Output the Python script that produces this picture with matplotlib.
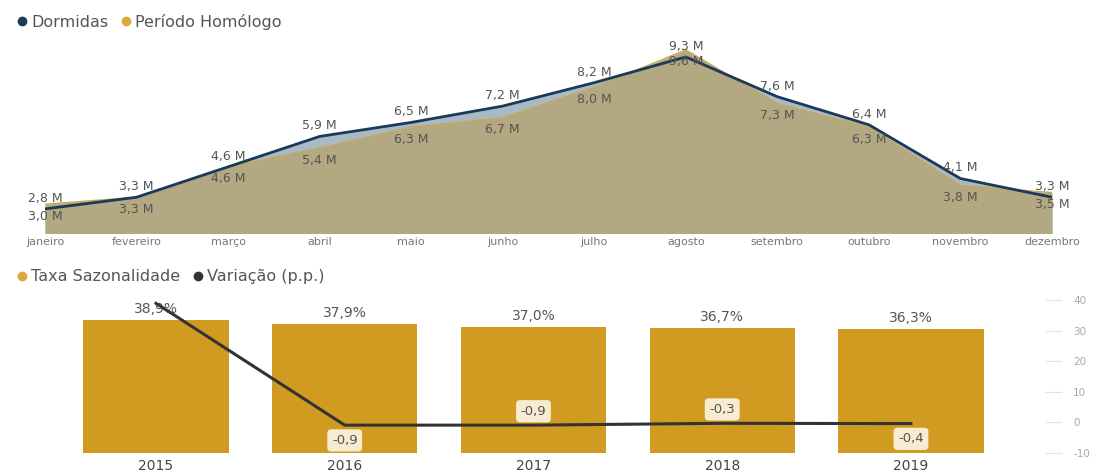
import matplotlib
matplotlib.use("Agg")
import matplotlib.pyplot as plt
from matplotlib.lines import Line2D

# Dados - dormidas mensais (milhões)
meses = ["janeiro", "fevereiro", "março", "abril", "maio", "junho", "julho",
         "agosto", "setembro", "outubro", "novembro", "dezembro"]
dormidas = [2.8, 3.3, 4.6, 5.9, 6.5, 7.2, 8.2, 9.3, 7.6, 6.4, 4.1, 3.3]
homologo = [3.0, 3.3, 4.6, 5.4, 6.3, 6.7, 8.0, 9.6, 7.3, 6.3, 3.8, 3.5]

# Dados - taxa de sazonalidade por ano
anos = ["2015", "2016", "2017", "2018", "2019"]
taxa = [38.9, 37.9, 37.0, 36.7, 36.3]
variacao = [38.9, -0.9, -0.9, -0.3, -0.4]

plt.rcParams["font.family"] = ["DejaVu Sans"]
plt.rcParams["axes.unicode_minus"] = False

navy = "#1c3a58"
gold = "#d19b22"
tan = "#b2a882"
txt = "#555555"

fig = plt.figure(figsize=(10.94, 4.74), dpi=100)

# ---- gráfico de cima: área ----
ax1 = fig.add_axes([0.0411, 0.5084, 0.9205, 0.3966])
x = list(range(len(meses)))
ax1.fill_between(x, 0, dormidas, color="#a9bac7", lw=0)
ax1.fill_between(x, 0, homologo, color=tan, lw=0)
ax1.plot(x, homologo, color="#c8a656", lw=1)
ax1.plot(x, dormidas, color=navy, lw=2)
ax1.set_xlim(0, 11)
ax1.set_ylim(1.77, 9.81)
for i in x:
    ax1.annotate(f"{dormidas[i]:.1f} M".replace(".", ","), (i, dormidas[i]),
                 xytext=(0, 3), textcoords="offset points", ha="center", va="bottom",
                 fontsize=9, color=txt, annotation_clip=False)
    ax1.annotate(f"{homologo[i]:.1f} M".replace(".", ","), (i, homologo[i]),
                 xytext=(0, -4), textcoords="offset points", ha="center", va="top",
                 fontsize=9, color=txt, annotation_clip=False)
ax1.set_xticks(x)
ax1.set_xticklabels(meses, fontsize=8, color="#777777")
ax1.tick_params(axis="x", length=0, pad=3)
ax1.set_yticks([])
for s in ax1.spines.values():
    s.set_visible(False)

leg1 = [Line2D([], [], marker="o", ls="", color=navy, markersize=6),
        Line2D([], [], marker="o", ls="", color="#d9a840", markersize=6)]
fig.legend(leg1, ["Dormidas", "Período Homólogo"], loc="center left",
           bbox_to_anchor=(0.0, 0.954), ncol=2, frameon=False, fontsize=11.5,
           handletextpad=0.05, columnspacing=0.6, labelcolor="#555555", handlelength=1)

# ---- gráfico de baixo: barras + linha ----
ax2 = fig.add_axes([0.0548, 0.038, 0.9159, 0.3376])
xb = list(range(len(anos)))
ax2.bar(xb, taxa, width=0.77, color=gold)
ax2.set_xlim(-0.509, 4.80)
ax2.set_ylim(-0.73, 46.05)
for i in xb:
    ax2.annotate(f"{taxa[i]:.1f}%".replace(".", ","), (i, taxa[i]),
                 xytext=(0, 3), textcoords="offset points", ha="center", va="bottom",
                 fontsize=10, color=txt)
ax2.set_xticks(xb)
ax2.set_xticklabels(anos, fontsize=10, color="#444444")
ax2.tick_params(axis="x", length=0, pad=2)
ax2.set_yticks([])
for s in ax2.spines.values():
    s.set_visible(False)

ax3 = ax2.twinx()
ax3.plot(xb, variacao, color="#333333", lw=2.2)
ax3.set_ylim(-10.98, 41.31)
ax3.set_yticks([-10, 0, 10, 20, 30, 40])
ax3.tick_params(axis="y", direction="in", length=12, pad=8, color="#e2e2e2",
                labelsize=7.5, labelcolor="#a8a8a8")
for s in ax3.spines.values():
    s.set_visible(False)
lado = [0, -1, 1, 1, -1]  # rótulo acima (1) ou abaixo (-1) da linha
for i in xb[1:]:
    off = 10 if lado[i] > 0 else -11
    ax3.annotate(f"{variacao[i]:.1f}".replace(".", ","), (i, variacao[i]),
                 xytext=(0, off), textcoords="offset points", ha="center", va="center",
                 fontsize=9.5, color=txt,
                 bbox=dict(boxstyle="round,pad=0.35,rounding_size=0.3", fc="#f7ebd0", ec="none"))

leg2 = [Line2D([], [], marker="o", ls="", color="#d9a840", markersize=6),
        Line2D([], [], marker="o", ls="", color="#333333", markersize=6)]
fig.legend(leg2, ["Taxa Sazonalidade", "Variação (p.p.)"], loc="center left",
           bbox_to_anchor=(0.0, 0.416), ncol=2, frameon=False, fontsize=11.5,
           handletextpad=0.05, columnspacing=0.6, labelcolor="#555555", handlelength=1)

fig.savefig("out.png", dpi=100)
